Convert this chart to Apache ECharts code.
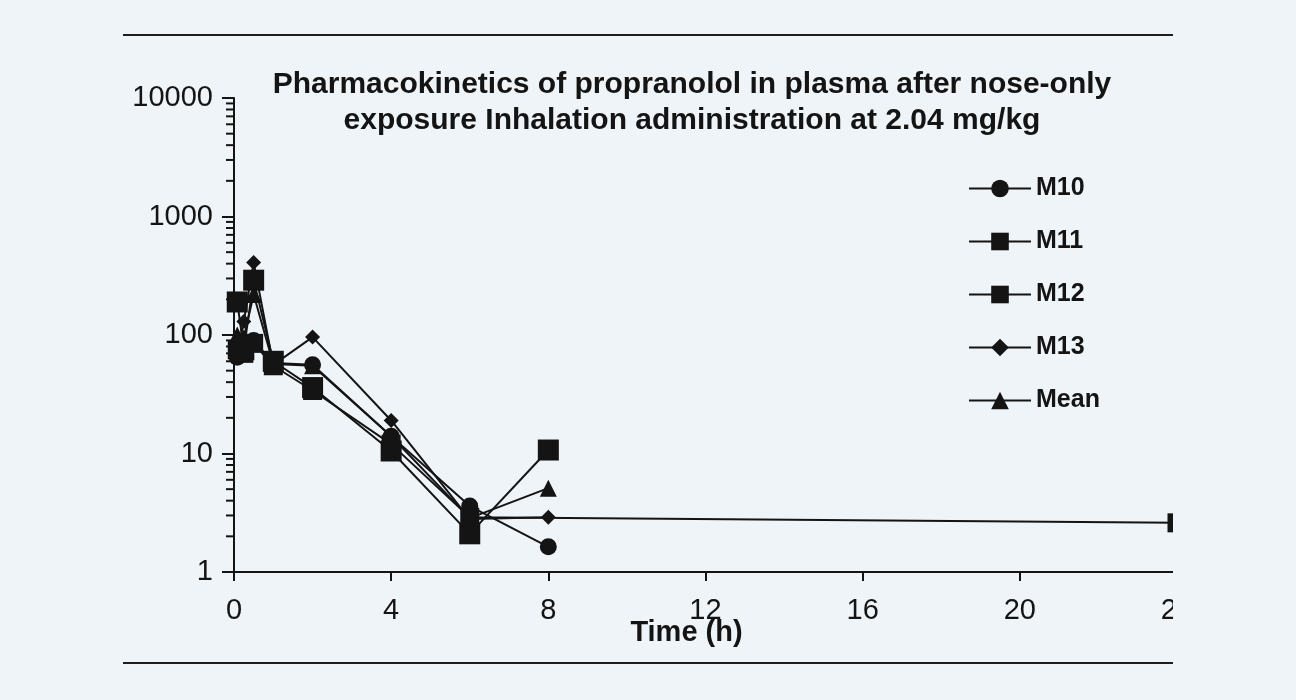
<!DOCTYPE html>
<html>
<head>
<meta charset="utf-8">
<script src="https://cdn.jsdelivr.net/npm/echarts@6/dist/echarts.min.js"></script>
<style>
  html, body { margin: 0; padding: 0; background: #eff4f8; }
  #clip { position: absolute; left: 0; top: 0; width: 1173px; height: 700px; overflow: hidden; }
  #chart { width: 1296px; height: 700px; }
</style>
</head>
<body>
<div id="clip"><div id="chart"></div></div>
<script>
// ---- data ----
const titleText = 'Pharmacokinetics of propranolol in plasma after nose-only\nexposure Inhalation administration at 2.04 mg/kg';
const xAxisName = 'Time (h)';
const times = [0.083, 0.25, 0.5, 1, 2, 4, 6, 8, 24];
const seriesNames = ['M10', 'M11', 'M12', 'M13', 'Mean'];
const m10Values  = [65, 80, 90, 58, 56, 14, 3.6, 1.63, null];
const m11Values  = [190, 75, 290, 60, 36, 10.5, 2.1, 10.7, null];
const m12Values  = [75, 70, 85, 55, 34, 12, 2.9, null, 2.6];
const m13Values  = [70, 130, 410, 56, 96, 19, 2.8, 2.9, null];
const meanValues = [100, 95, 220, 57, 55, 14, 2.85, 5.1, null];
const xTicks = [0, 4, 8, 12, 16, 20, 24];
const yMajorTicks = [1, 10, 100, 1000, 10000];
const yMinorTicks = [2,3,4,5,6,7,8,9,20,30,40,50,60,70,80,90,200,300,400,500,600,700,800,900,2000,3000,4000,5000,6000,7000,8000,9000];

// ---- styles ----
const ink = '#141414';
const font = '"Liberation Sans", Arial, sans-serif';
const symbols = { M10: 'circle', M11: 'rect', M12: 'rect', M13: 'diamond', Mean: 'triangle' };
const symbolSizes = { M10: 17, M11: 21, M12: 19, M13: 15, Mean: 17 };
const valuesByName = { M10: m10Values, M11: m11Values, M12: m12Values, M13: m13Values, Mean: meanValues };

function toData(vals) {
  const out = [];
  times.forEach((t, i) => { if (vals[i] != null) out.push([t, vals[i]]); });
  return out;
}

const chart = echarts.init(document.getElementById('chart'), null, { renderer: 'canvas' });

const lineSeries = seriesNames.map(name => ({
  name: name,
  type: 'line',
  data: toData(valuesByName[name]),
  symbol: symbols[name],
  symbolSize: symbolSizes[name],
  showAllSymbol: true,
  connectNulls: true,
  lineStyle: { color: ink, width: 2 },
  itemStyle: { color: ink, borderColor: ink, borderWidth: 0 },
  emphasis: { disabled: true },
  z: 3
}));

const minorTickSeries = {
  type: 'custom',
  silent: true,
  clip: false,
  data: yMinorTicks.map(v => [0, v]),
  renderItem: function (params, api) {
    const p = api.coord([0, api.value(1)]);
    return {
      type: 'line',
      shape: { x1: p[0] - 8, y1: p[1], x2: p[0], y2: p[1] },
      style: { stroke: ink, lineWidth: 2 }
    };
  },
  z: 2
};

chart.setOption({
  backgroundColor: '#eff4f8',
  animation: false,
  title: {
    text: titleText,
    left: 687,
    top: 62,
    textAlign: 'center',
    textStyle: { fontFamily: font, fontWeight: 'bold', fontSize: 30, lineHeight: 36, color: ink }
  },
  legend: {
    data: seriesNames,
    orient: 'vertical',
    left: 963,
    top: 171,
    itemWidth: 62,
    itemHeight: 22,
    itemGap: 31 - 3,
    lineStyle: { width: 2, color: ink },
    textStyle: { fontFamily: font, fontWeight: 'bold', fontSize: 25, color: ink },
    selectedMode: false
  },
  grid: { left: 234, right: 119, top: 98, bottom: 128, containLabel: false },
  xAxis: {
    type: 'value',
    min: 0, max: 24, interval: 4,
    name: xAxisName,
    nameLocation: 'middle',
    nameGap: 46,
    nameMoveOverlap: false,
    nameTextStyle: { fontFamily: font, fontWeight: 'bold', fontSize: 29, color: ink, padding: [0, 38, 0, 0] },
    axisLine: { show: true, onZero: false, lineStyle: { color: ink, width: 2 } },
    axisTick: { show: true, length: 9, lineStyle: { color: ink, width: 2 } },
    axisLabel: { fontFamily: font, fontSize: 29, color: ink, margin: 24 },
    splitLine: { show: false }
  },
  yAxis: {
    type: 'log',
    logBase: 10,
    min: 1, max: 10000,
    axisLine: { show: true, lineStyle: { color: ink, width: 2 } },
    axisTick: { show: true, length: 12, lineStyle: { color: ink, width: 2 } },
    axisLabel: { fontFamily: font, fontSize: 29, color: ink, margin: 21,
      formatter: v => (yMajorTicks.indexOf(Math.round(v)) >= 0 ? String(Math.round(v)) : '') },
    splitLine: { show: false }
  },
  graphic: [
    { type: 'line', shape: { x1: 123, y1: 35, x2: 1173, y2: 35 }, style: { stroke: '#1e1e1e', lineWidth: 2 } },
    { type: 'line', shape: { x1: 123, y1: 663, x2: 1173, y2: 663 }, style: { stroke: '#1e1e1e', lineWidth: 2 } }
  ],
  series: lineSeries.concat([minorTickSeries])
});
</script>
</body>
</html>
